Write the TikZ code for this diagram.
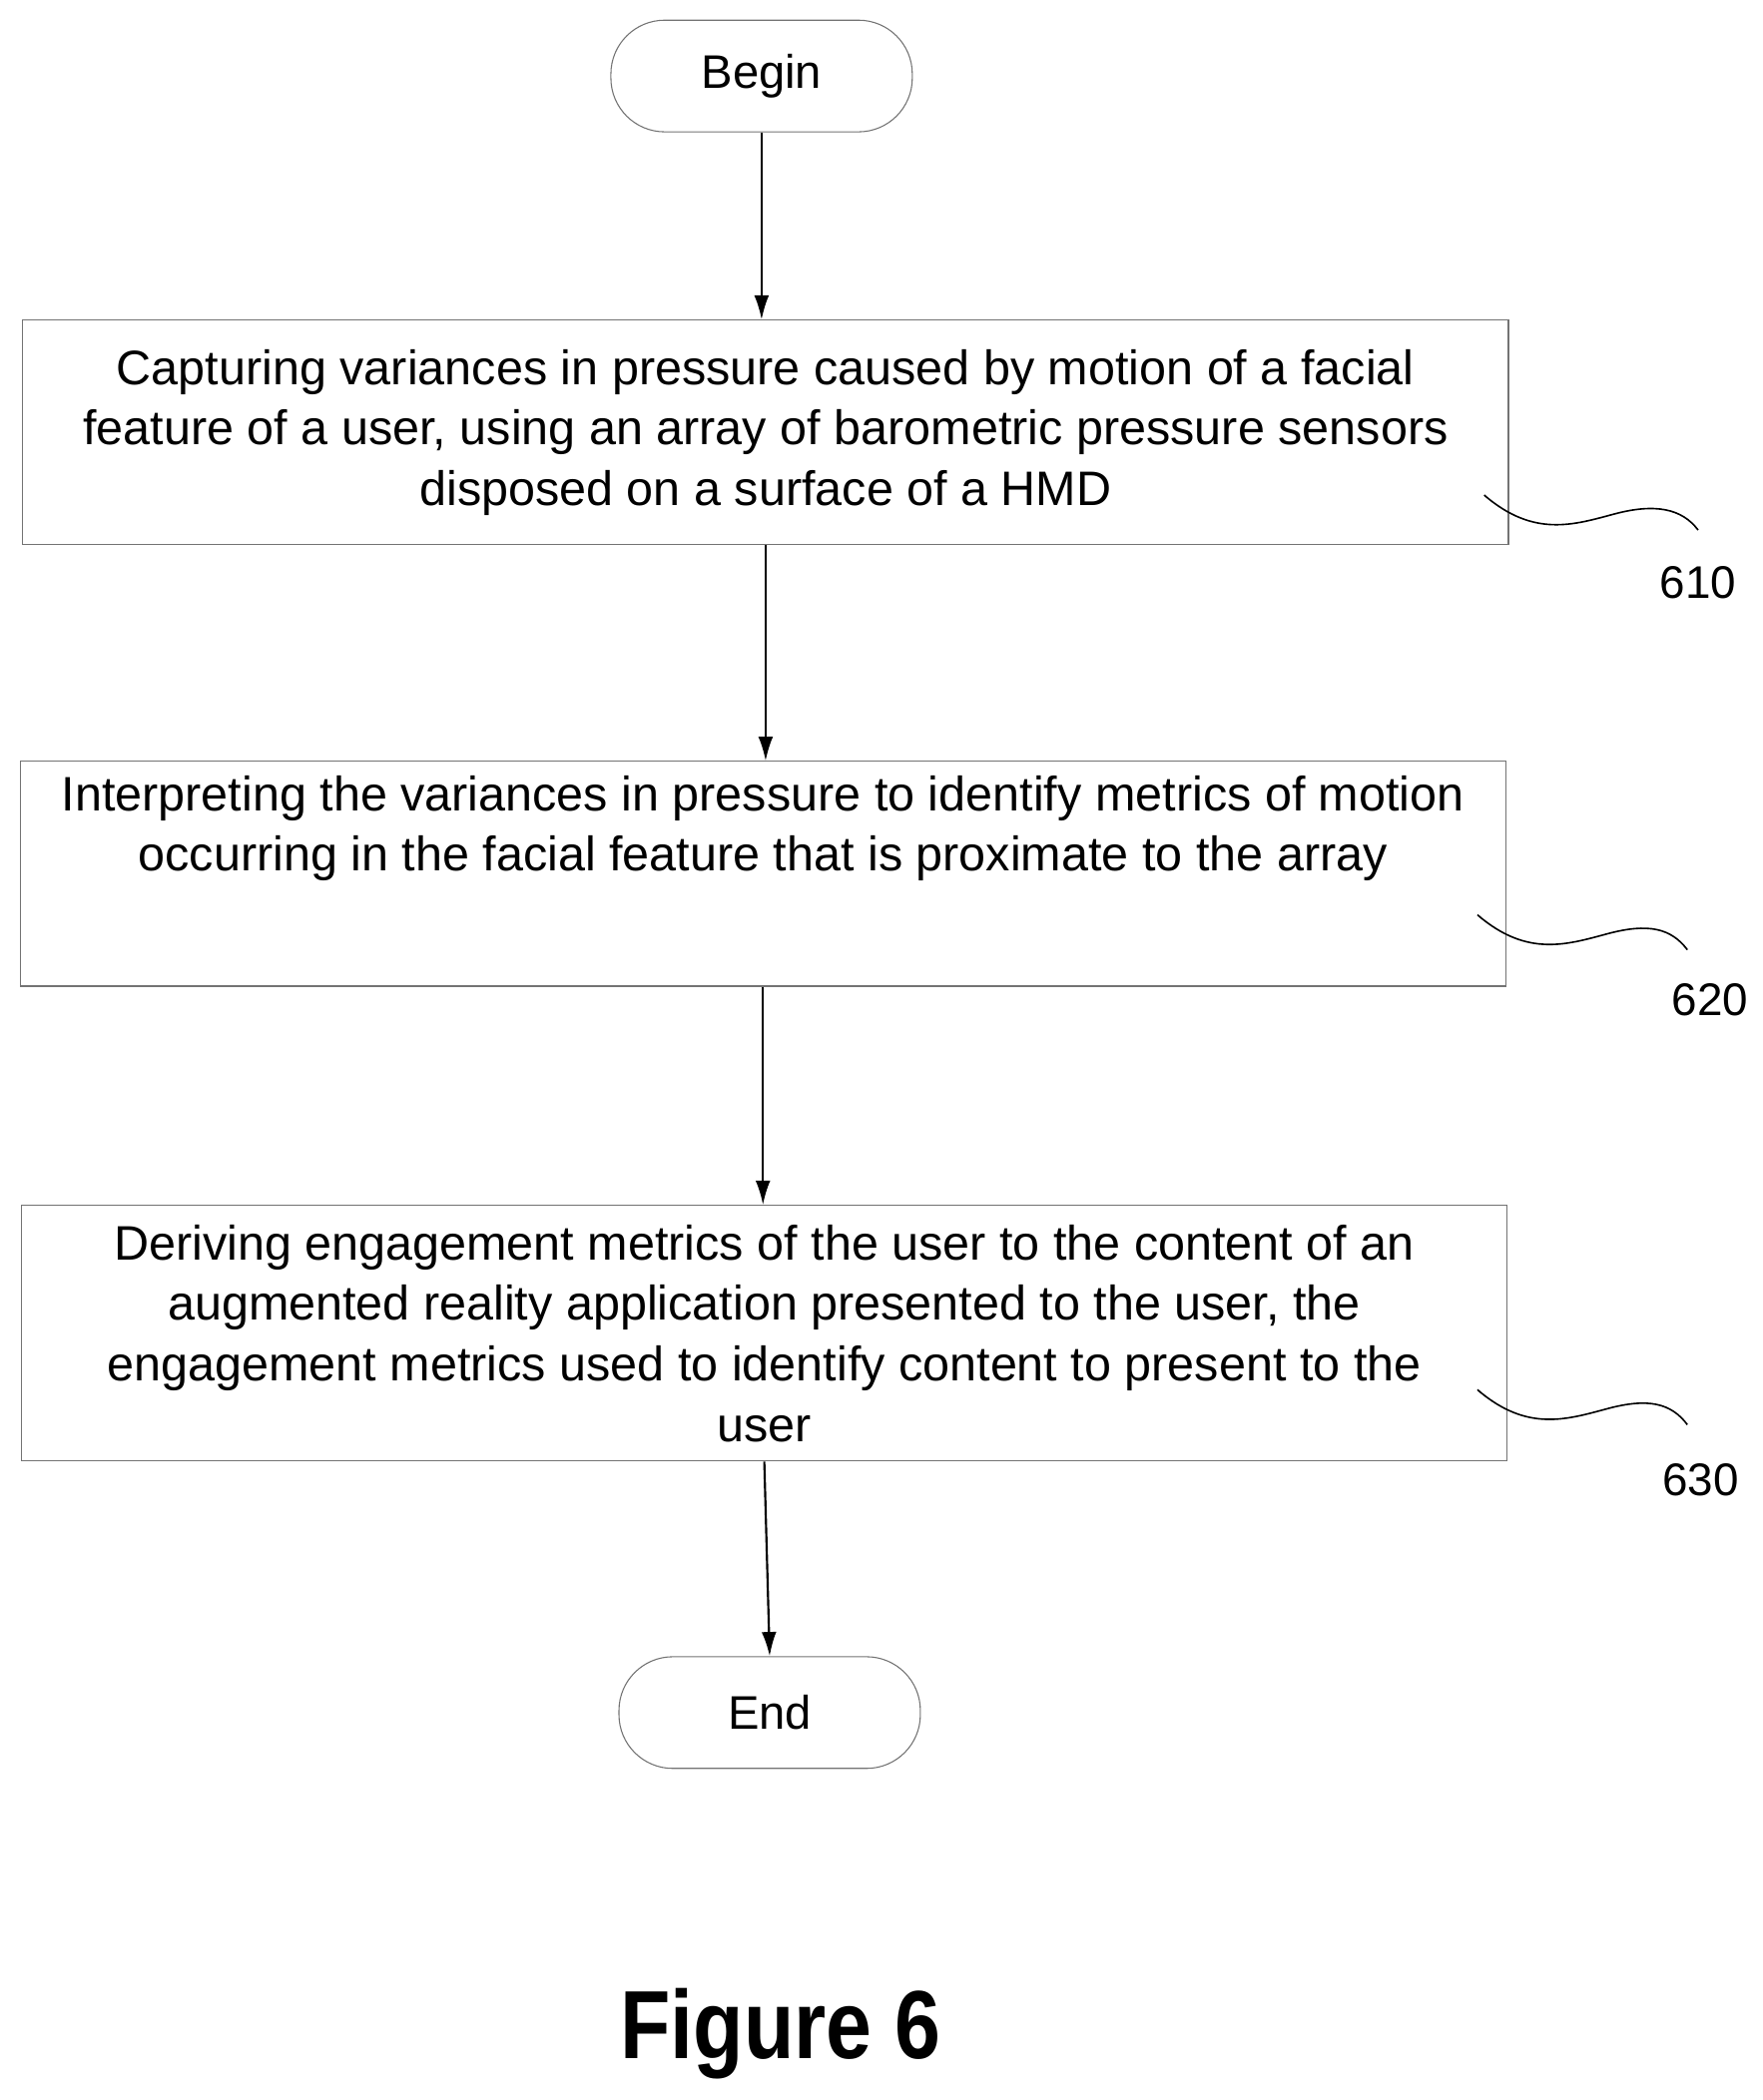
\documentclass[tikz,border=0pt]{standalone}
\usepackage{fontspec}
\setmainfont{Liberation Sans}
\usetikzlibrary{arrows.meta}
\begin{document}
\begin{tikzpicture}[x=1pt,y=-1pt,
  box/.style={draw=black!55,line width=0.8pt,minimum width=1104pt,minimum height=167pt,align=center,inner sep=0pt,font=\fontsize{36}{45}\selectfont},
  term/.style={draw=black!55,line width=0.8pt,rounded corners=40pt,minimum width=224pt,minimum height=83pt,font=\fontsize{35}{40}\selectfont},
  arr/.style={-{Latex[length=18pt,width=11pt]},line width=1.6pt},
  lbl/.style={font=\fontsize{34}{40}\selectfont},
  sq/.style={line width=1.2pt}]
\useasboundingbox (0,0) rectangle (1310,1561);
\node[term] (b) at (566,56.5) {Begin};
\node[box] (s1) at (569,321.5) {Capturing variances in pressure caused by motion of a facial\\feature of a user, using an array of barometric pressure sensors\\disposed on a surface of a HMD};
\node[box] (s2) at (567,649.5) {Interpreting the variances in pressure to identify metrics of motion\\occurring in the facial feature that is proximate to the array\\[30pt]};
\node[box,minimum height=190pt] (s3) at (568,991) {Deriving engagement metrics of the user to the content of an\\augmented reality application presented to the user, the\\engagement metrics used to identify content to present to the\\user};
\node[term] (e) at (572,1273) {End};
\draw[arr] (b.south) -- (b.south |- s1.north);
\draw[arr] (s1.south) -- (s1.south |- s2.north);
\draw[arr] (s2.south) -- (s2.south |- s3.north);
\draw[arr] (s3.south) -- (e.north);
\node[lbl] (l1) at (1262,433) {610};
\node[lbl] (l2) at (1271,743) {620};
\node[lbl] (l3) at (1264,1100) {630};
\draw[sq] (1103,368) .. controls (1140,400) and (1170,390) .. (1200,382) .. controls (1230,374) and (1250,378) .. (1262,394);
\draw[sq] (1098,680) .. controls (1135,712) and (1165,702) .. (1195,694) .. controls (1225,686) and (1242,690) .. (1254,706);
\draw[sq] (1098,1033) .. controls (1135,1065) and (1165,1055) .. (1195,1047) .. controls (1225,1039) and (1242,1043) .. (1254,1059);
\node[font=\fontsize{72}{80}\selectfont\bfseries,xscale=0.85] (fig) at (580,1512) {Figure 6};
\end{tikzpicture}
\end{document}
